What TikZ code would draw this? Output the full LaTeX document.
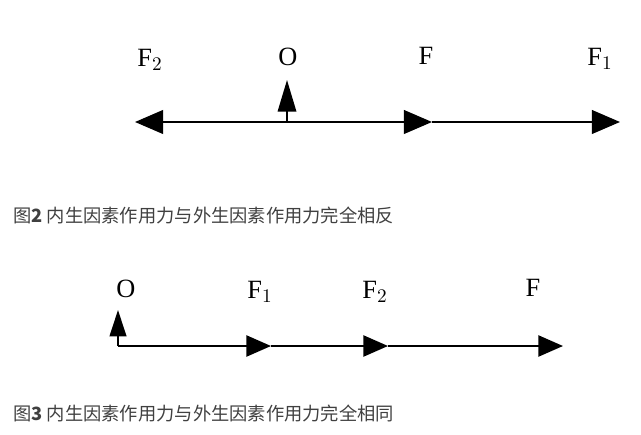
\documentclass[tikz,border=0pt]{standalone}
\usepackage{fontspec}
\setmainfont{Liberation Serif}
\newfontfamily\cjk{Noto Sans CJK SC}
\usetikzlibrary{arrows.meta}

\begin{document}
\begin{tikzpicture}[
    x=0.02cm, y=-0.02cm,
    % Styles
    force_line/.style={line width=1.1pt},
    big_tip/.style={-{Triangle[length=16pt, width=13.5pt]}},
    small_tip/.style={-{Triangle[length=14pt, width=12pt]}},
    o_tip/.style={-{Triangle[length=18pt, width=10.5pt]}},
    o_tip_small/.style={-{Triangle[length=15pt, width=9.5pt]}},
    force_label/.style={font=\fontsize{15}{17}\selectfont, inner sep=0pt},
    caption_text/.style={font=\cjk\fontsize{10.4}{12}\selectfont, text=black!75, anchor=west, inner sep=0pt}
]
    \useasboundingbox (0,0) rectangle (641,435);

    % ==========================================
    % 1. OPPOSITE FORCES (Fig. 2)
    % ==========================================
    \coordinate (oA) at (287,122);
    \coordinate (oA_top) at (287,80);
    \coordinate (f2A) at (135,122);
    \coordinate (fA) at (432,122);
    \coordinate (f1A) at (620,122);

    \draw[force_line, big_tip] (oA) -- (f2A);
    \draw[force_line, big_tip] (oA) -- (fA);
    \draw[force_line, big_tip] (fA) -- (f1A);
    \draw[force_line, o_tip] (oA) -- (oA_top);

    \node[force_label] (lblF2A) at (150,60) {F$_2$};
    \node[force_label] (lblOA) at (288,57) {O};
    \node[force_label] (lblFA) at (426,56) {F};
    \node[force_label] (lblF1A) at (600,59) {F$_1$};

    \node[caption_text] (capA) at (13,216) {图\textbf{2} 内生因素作用力与外生因素作用力完全相反};

    % ==========================================
    % 2. SAME-DIRECTION FORCES (Fig. 3)
    % ==========================================
    \coordinate (oB) at (118,346);
    \coordinate (oB_top) at (118,310);
    \coordinate (f1B) at (271,346);
    \coordinate (f2B) at (388,346);
    \coordinate (fB) at (563,346);

    \draw[force_line, small_tip] (oB) -- (f1B);
    \draw[force_line, small_tip] (f1B) -- (f2B);
    \draw[force_line, small_tip] (f2B) -- (fB);
    \draw[force_line, o_tip_small] (oB) -- (oB_top);

    \node[force_label] (lblOB) at (126,289) {O};
    \node[force_label] (lblF1B) at (260,292) {F$_1$};
    \node[force_label] (lblF2B) at (375,292) {F$_2$};
    \node[force_label] (lblFB) at (533,288) {F};

    \node[caption_text] (capB) at (13,413) {图\textbf{3} 内生因素作用力与外生因素作用力完全相同};

\end{tikzpicture}
\end{document}
